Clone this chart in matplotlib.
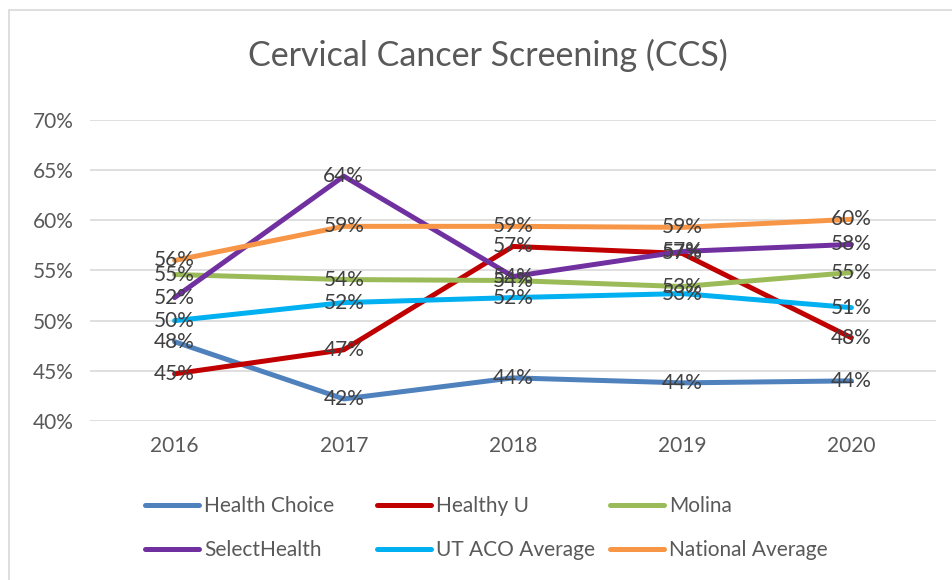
import matplotlib
matplotlib.use("Agg")
import matplotlib.pyplot as plt
from matplotlib.patches import Rectangle
from matplotlib.ticker import FuncFormatter

years = ["2016", "2017", "2018", "2019", "2020"]
health_choice = [47.9, 42.2, 44.3, 43.8, 44.0]
healthy_u = [44.7, 47.1, 57.4, 56.7, 48.3]
molina = [54.6, 54.1, 54.0, 53.4, 54.8]
select_health = [52.3, 64.4, 54.4, 56.9, 57.6]
ut_aco_avg = [50.0, 51.8, 52.3, 52.7, 51.3]
national_avg = [56.0, 59.4, 59.4, 59.3, 60.1]

series = [
    ("Health Choice", health_choice, "#4F81BD"),
    ("Healthy U", healthy_u, "#C00000"),
    ("Molina", molina, "#9BBB59"),
    ("SelectHealth", select_health, "#7030A0"),
    ("UT ACO Average", ut_aco_avg, "#00B0F0"),
    ("National Average", national_avg, "#F79646"),
]

plt.rcParams['font.family'] = ['Lato', 'DejaVu Sans']
text_color = "#595959"

fig = plt.figure(figsize=(9.52, 5.8), dpi=100)
ax = fig.add_axes([90/952, 1-421/580, (936-90)/952, (421-120)/580])

x = list(range(len(years)))
lines = []
for name, vals, col in series:
    ln, = ax.plot(x, vals, color=col, lw=3.6, label=name, solid_capstyle='round')
    lines.append(ln)
for name, vals, col in series:
    for xi, v in zip(x, vals):
        ax.text(xi, v, f"{round(v):.0f}%", ha='center', va='center',
                fontsize=15, color="#404040", zorder=5)

ax.set_xlim(-0.5, len(years) - 0.5)
ax.set_ylim(40, 70)
ax.set_yticks([40, 45, 50, 55, 60, 65, 70])
ax.yaxis.set_major_formatter(FuncFormatter(lambda v, p: f"{v:.0f}%"))
ax.set_xticks(x)
ax.set_xticklabels(years)
ax.grid(axis='y', color="#D9D9D9", lw=1.2)
ax.set_axisbelow(True)
for s in ax.spines.values():
    s.set_visible(False)
ax.tick_params(length=0, colors=text_color, labelsize=15)
ax.tick_params(axis='x', pad=11)
ax.tick_params(axis='y', pad=12)

fig.text(0.512, 1 - 55/580, "Cervical Cancer Screening (CCS)", ha='center', va='center',
         fontsize=24.5, color=text_color)

col_x = [145, 377, 610]
for c in range(3):
    hs = [lines[c], lines[c + 3]]
    leg = fig.legend(hs, [h.get_label() for h in hs], loc='center left',
                     bbox_to_anchor=(col_x[c]/952, 1 - 528/580), ncol=1, frameon=False,
                     fontsize=15, handlelength=2.6, handletextpad=0.25,
                     labelspacing=1.15, borderpad=0, borderaxespad=0)
    for t in leg.get_texts():
        t.set_color(text_color)

fig.patches.append(Rectangle((9/952, -0.01), 1.0, 1 - 10/580 + 0.01, transform=fig.transFigure,
                             fill=False, edgecolor="#D9D9D9", lw=1.2))

fig.savefig("out.png", dpi=100)
